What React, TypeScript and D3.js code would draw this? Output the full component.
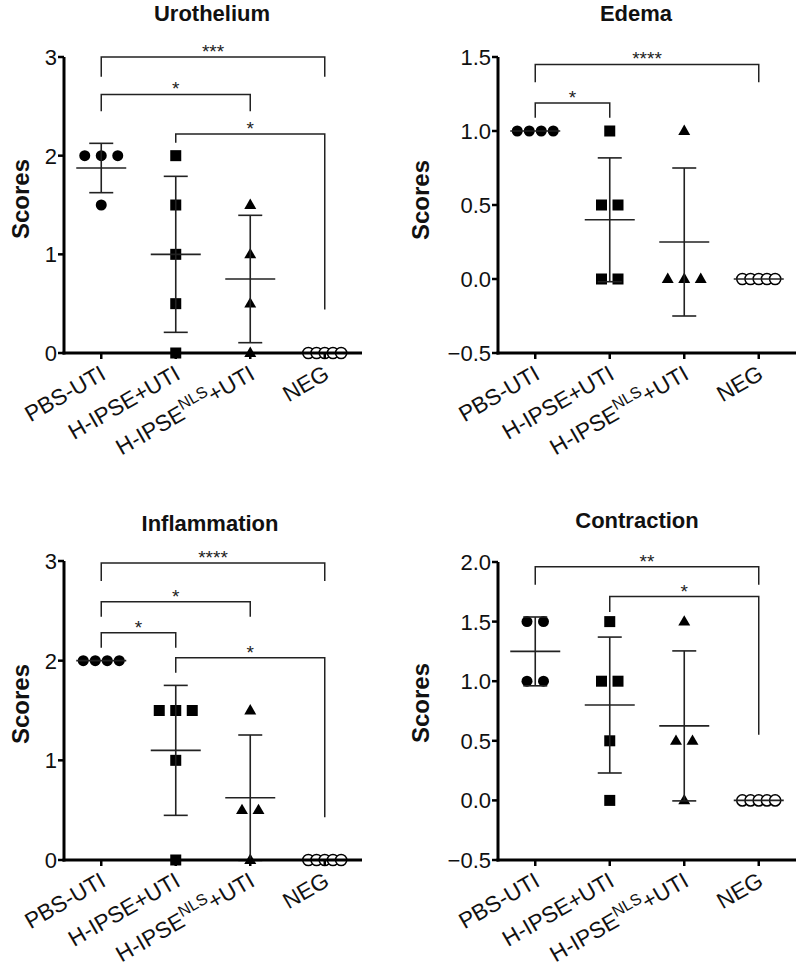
import React from 'react';
import * as d3 from 'd3';

const categories = ['PBS-UTI', 'H-IPSE+UTI', 'H-IPSE|NLS|+UTI', 'NEG'];
const markerShapes = ['circle', 'square', 'triangle', 'open'];

const urotheliumValues = [[2, 2, 2, 1.5], [2, 1.5, 1, 0.5, 0], [1.5, 1, 0.5, 0], [0, 0, 0, 0, 0]];
const edemaValues = [[1, 1, 1, 1], [1, 0.5, 0.5, 0, 0], [1, 0, 0, 0], [0, 0, 0, 0, 0]];
const inflammationValues = [[2, 2, 2, 2], [1.5, 1.5, 1.5, 1, 0], [1.5, 0.5, 0.5, 0], [0, 0, 0, 0, 0]];
const contractionValues = [[1.5, 1.5, 1, 1], [1.5, 1, 1, 0.5, 0], [1.5, 0.5, 0.5, 0], [0, 0, 0, 0, 0]];

const urotheliumTicks = [0, 1, 2, 3];
const edemaTicks = [-0.5, 0, 0.5, 1, 1.5];
const inflammationTicks = [0, 1, 2, 3];
const contractionTicks = [-0.5, 0, 0.5, 1, 1.5, 2];

// brackets: [fromGroup, toGroup, topValue, leftLegEnd, rightLegEnd, label]
const urotheliumBrackets: [number, number, number, number, number, string][] = [
  [0, 3, 3.0, 2.8, 2.8, '***'],
  [0, 2, 2.62, 2.45, 2.45, '*'],
  [1, 3, 2.22, 2.13, 0.44, '*'],
];
const edemaBrackets: [number, number, number, number, number, string][] = [
  [0, 3, 1.45, 1.33, 1.33, '****'],
  [0, 1, 1.19, 1.09, 1.09, '*'],
];
const inflammationBrackets: [number, number, number, number, number, string][] = [
  [0, 3, 2.98, 2.8, 2.8, '****'],
  [0, 2, 2.59, 2.44, 2.44, '*'],
  [0, 1, 2.28, 2.13, 2.13, '*'],
  [1, 3, 2.03, 1.88, 0.43, '*'],
];
const contractionBrackets: [number, number, number, number, number, string][] = [
  [0, 3, 1.96, 1.81, 1.81, '**'],
  [1, 3, 1.71, 1.58, 0.55, '*'],
];

const FONT = "'Liberation Sans', Arial, Helvetica, sans-serif";

interface PanelSpec {
  title: string;
  values: number[][];
  ticks: number[];
  decimals: number;
  brackets: [number, number, number, number, number, string][];
  x0: number; x1: number; yTop: number; yBot: number;
  titleX: number; titleY: number; labelX: number; labelY: number;
}

const panels: PanelSpec[] = [
  { title: 'Urothelium', values: urotheliumValues, ticks: urotheliumTicks, decimals: 0, brackets: urotheliumBrackets,
    x0: 64, x1: 362, yTop: 57, yBot: 353, titleX: 212, titleY: 21, labelX: 29, labelY: 199 },
  { title: 'Edema', values: edemaValues, ticks: edemaTicks, decimals: 1, brackets: edemaBrackets,
    x0: 498, x1: 796, yTop: 57, yBot: 353, titleX: 636, titleY: 21, labelX: 429, labelY: 200 },
  { title: 'Inflammation', values: inflammationValues, ticks: inflammationTicks, decimals: 0, brackets: inflammationBrackets,
    x0: 64, x1: 362, yTop: 561, yBot: 860, titleX: 210, titleY: 531, labelX: 29, labelY: 704 },
  { title: 'Contraction', values: contractionValues, ticks: contractionTicks, decimals: 1, brackets: contractionBrackets,
    x0: 498, x1: 796, yTop: 562, yBot: 860, titleX: 637, titleY: 528, labelX: 429, labelY: 703 },
];

function spacingFor(n: number) {
  if (n <= 3) return 16.5;
  if (n === 4) return 12;
  return 8.2;
}

function Marker({ shape, x, y }: { shape: string; x: number; y: number }) {
  if (shape === 'circle') return <circle cx={x} cy={y} r={5.5} fill="#000" />;
  if (shape === 'open') return <circle cx={x} cy={y} r={5.6} fill="#fff" stroke="#000" strokeWidth={1.5} />;
  if (shape === 'square') return <rect x={x - 5.5} y={y - 5.5} width={11} height={11} fill="#000" />;
  const p = d3.symbol().type(d3.symbolTriangle).size(62)() as string;
  return <path d={p} transform={`translate(${x},${y + 0.5})`} fill="#000" />;
}

function CatLabel({ text, x, y }: { text: string; x: number; y: number }) {
  const parts = text.split('|');
  return (
    <text transform={`translate(${x},${y}) rotate(-30)`} textAnchor="end" fontFamily={FONT} fontSize={22.5} fill="#111">
      {parts.length === 1 ? text : (
        <>
          <tspan>{parts[0]}</tspan>
          <tspan dy={-9} fontSize={16}>{parts[1]}</tspan>
          <tspan dy={9}>{parts[2]}</tspan>
        </>
      )}
    </text>
  );
}

function Panel({ spec }: { spec: PanelSpec }) {
  const ext = d3.extent(spec.ticks) as [number, number];
  const y = d3.scaleLinear().domain(ext).range([spec.yBot, spec.yTop]);
  const xb = d3.scaleBand<number>().domain(d3.range(categories.length)).range([spec.x0, spec.x1]);
  const cx = (i: number) => (xb(i) as number) + xb.bandwidth() / 2;
  const fmt = d3.format(spec.decimals ? '.1f' : 'd');
  const sw = 1.6;

  return (
    <g>
      <text x={spec.titleX} y={spec.titleY} textAnchor="middle" fontFamily={FONT} fontWeight="bold" fontSize={22} fill="#111">{spec.title}</text>
      <text transform={`translate(${spec.labelX},${spec.labelY}) rotate(-90)`} textAnchor="middle" fontFamily={FONT} fontWeight="bold" fontSize={24} fill="#111">Scores</text>

      {spec.brackets.map((b, k) => {
        const xa = cx(b[0]), xc = cx(b[1]);
        const yt = y(b[2]);
        return (
          <g key={'b' + k}>
            <path d={`M${xa},${y(b[3])}V${yt}H${xc}V${y(b[4])}`} fill="none" stroke="#222" strokeWidth={1.5} />
            <text x={(xa + xc) / 2} y={yt + 1} textAnchor="middle" fontFamily={FONT} fontSize={19} fill="#222">{b[5]}</text>
          </g>
        );
      })}

      {spec.values.map((vals, gi) => {
        const groups = d3.groups(vals, v => v);
        return groups.map(([v, arr]) => arr.map((_, j) => {
          const off = (j - (arr.length - 1) / 2) * spacingFor(arr.length);
          return <Marker key={`m${gi}-${v}-${j}`} shape={markerShapes[gi]} x={cx(gi) + off} y={y(v)} />;
        }));
      })}

      {spec.values.map((vals, gi) => {
        const m = d3.mean(vals) as number;
        const sd = d3.deviation(vals) as number;
        const x = cx(gi);
        return (
          <g key={'e' + gi} stroke="#222" strokeWidth={sw} fill="none">
            <line x1={x - 25} x2={x + 25} y1={y(m)} y2={y(m)} />
            {sd > 0 && (
              <>
                <line x1={x} x2={x} y1={y(m - sd)} y2={y(m + sd)} />
                <line x1={x - 12} x2={x + 12} y1={y(m + sd)} y2={y(m + sd)} />
                <line x1={x - 12} x2={x + 12} y1={y(m - sd)} y2={y(m - sd)} />
              </>
            )}
          </g>
        );
      })}

      <line x1={spec.x0} x2={spec.x0} y1={spec.yTop} y2={spec.yBot + 1.5} stroke="#000" strokeWidth={3} />
      {spec.ticks.map(t => (
        <g key={'t' + t}>
          <line x1={spec.x0 - 6} x2={spec.x0} y1={y(t)} y2={y(t)} stroke="#000" strokeWidth={2.5} />
          <text x={spec.x0 - 7} y={y(t)} dy="0.36em" textAnchor="end" fontFamily={FONT} fontSize={22} fill="#111">{fmt(t)}</text>
        </g>
      ))}

      <line x1={spec.x0 - 1.5} x2={spec.x1} y1={spec.yBot} y2={spec.yBot} stroke="#000" strokeWidth={3} />
      {categories.map((c, i) => (
        <g key={'c' + i}>
          <line x1={cx(i)} x2={cx(i)} y1={spec.yBot} y2={spec.yBot + 6} stroke="#000" strokeWidth={2.5} />
          <CatLabel text={c} x={cx(i) + 6} y={spec.yBot + 25} />
        </g>
      ))}
    </g>
  );
}

export default function App() {
  return (
    <svg width={796} height={969} viewBox="0 0 796 969" style={{ position: 'absolute', left: 0, top: 0, background: '#fff' }}>
      <rect width={796} height={969} fill="#fff" />
      {panels.map((p, i) => <Panel key={i} spec={p} />)}
    </svg>
  );
}
